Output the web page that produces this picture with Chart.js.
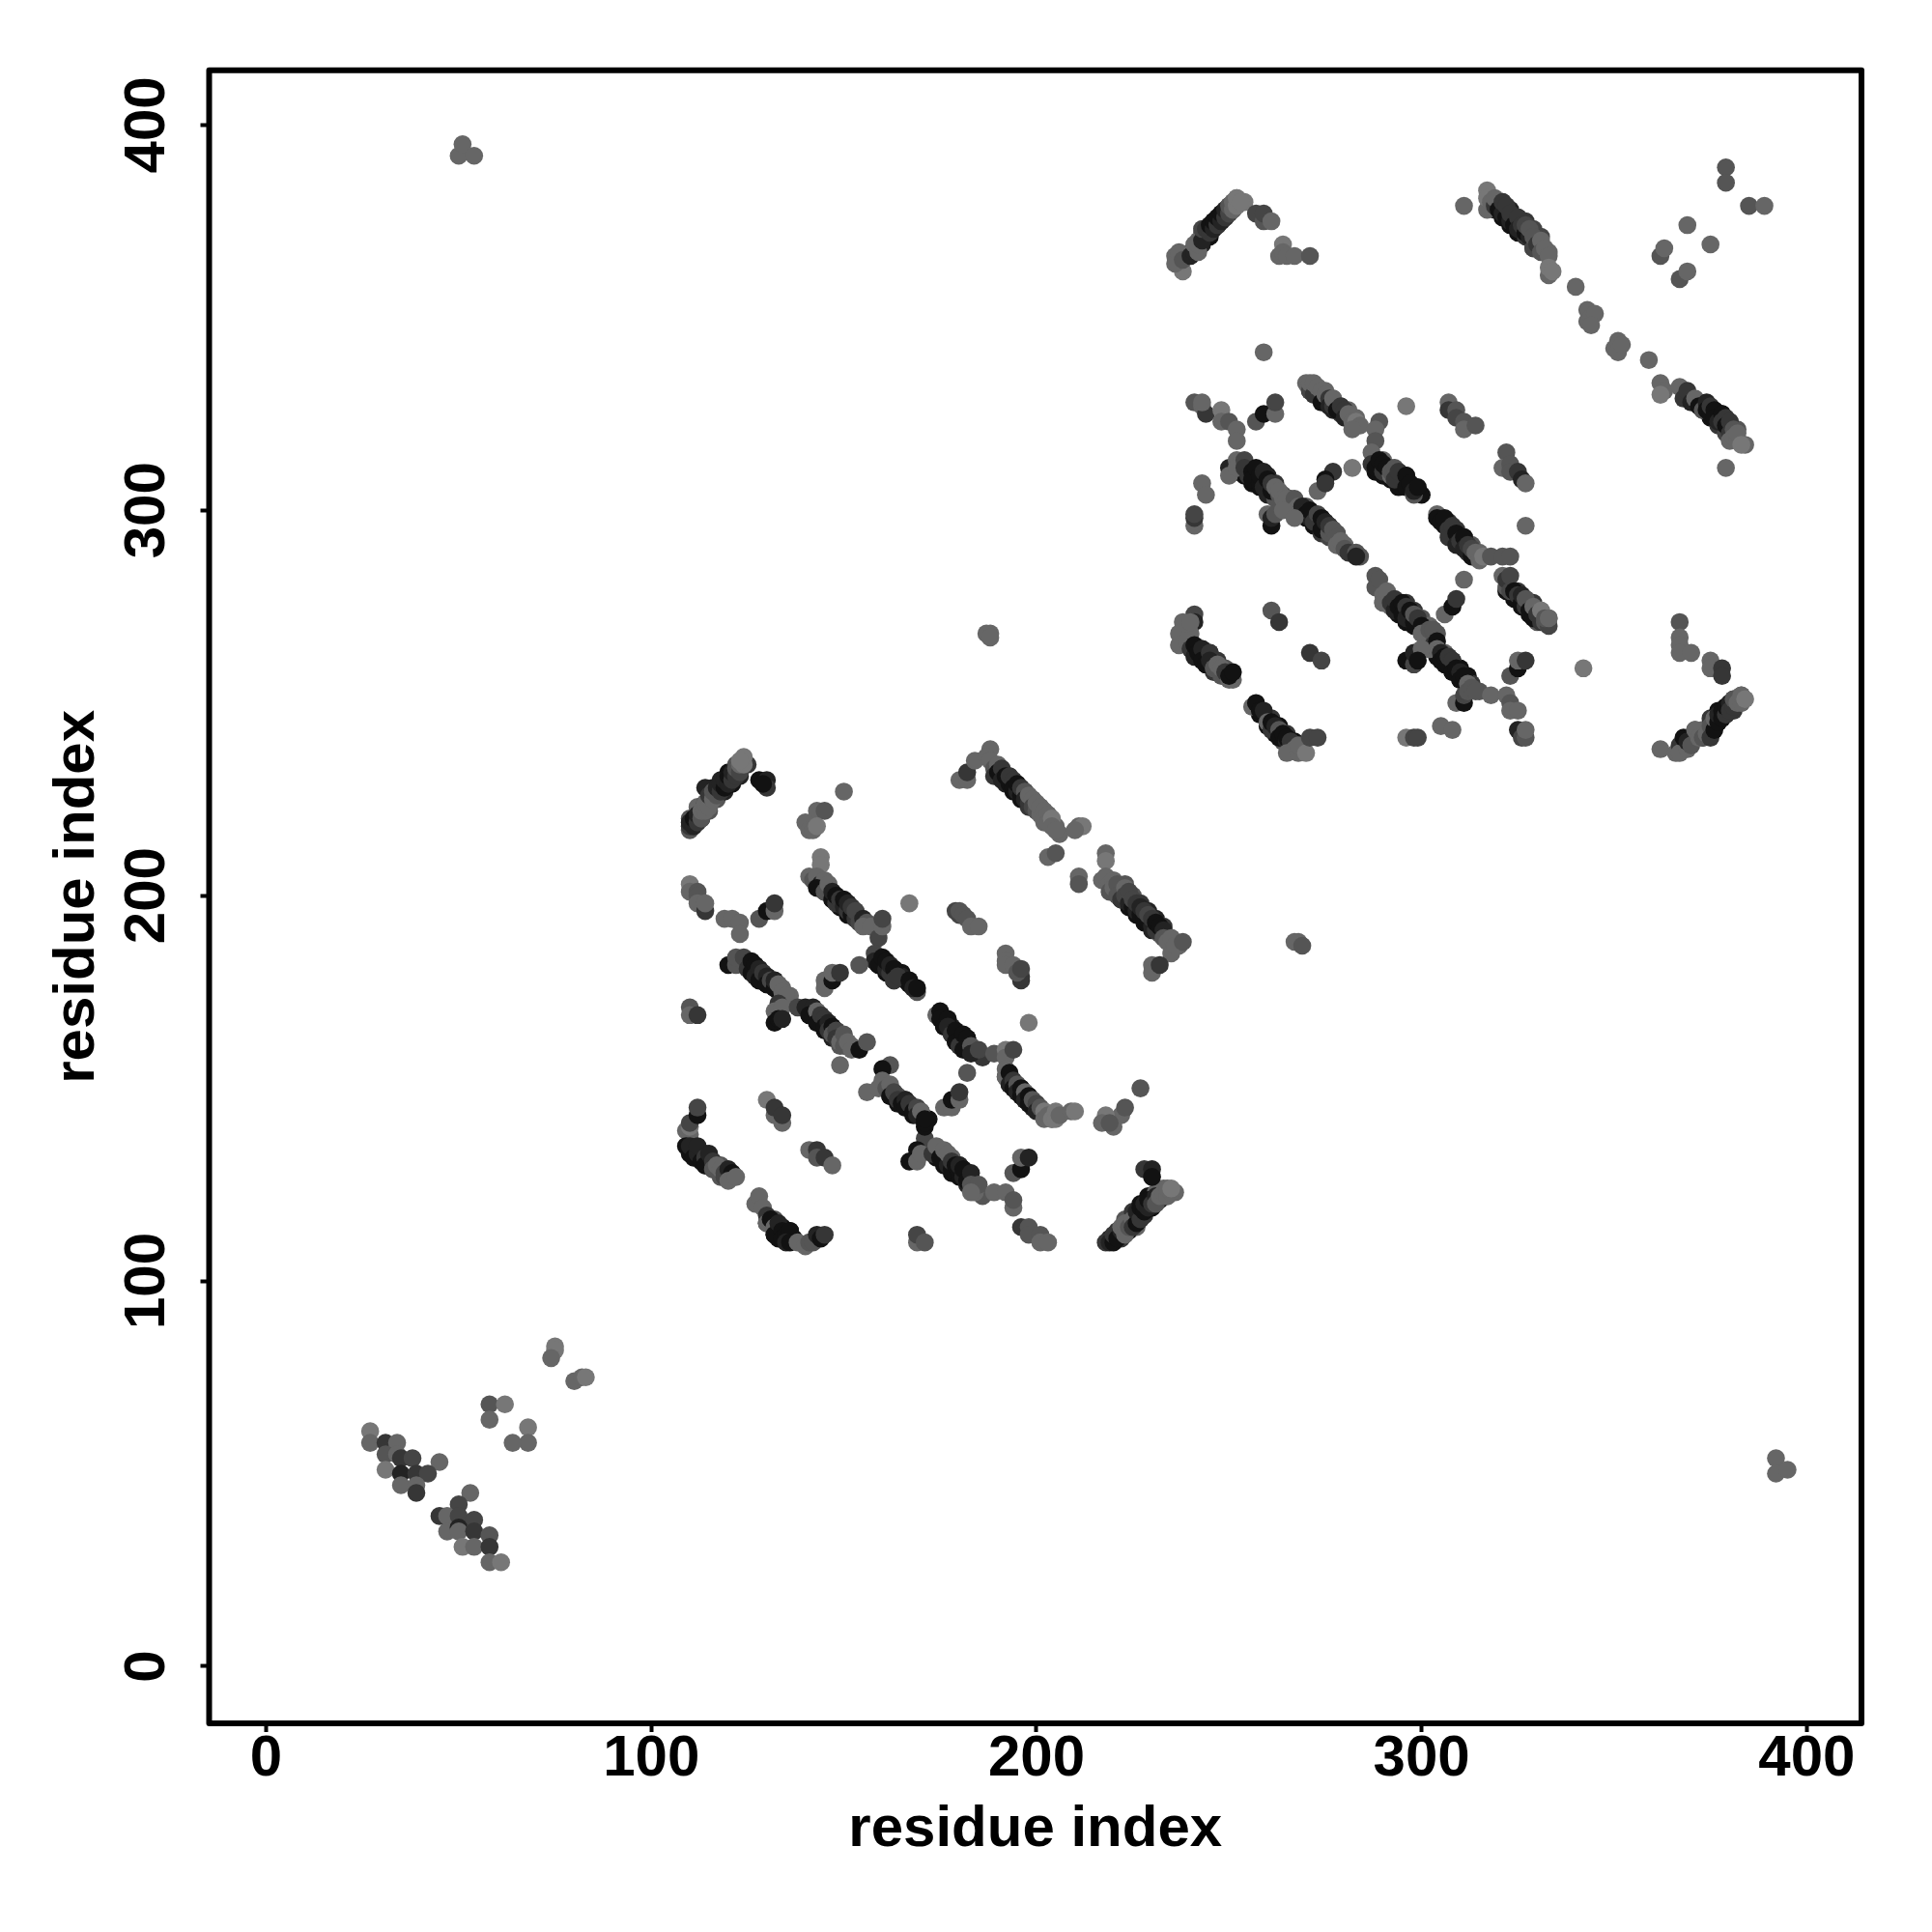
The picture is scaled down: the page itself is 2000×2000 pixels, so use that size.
<!DOCTYPE html>
<html><head><meta charset="utf-8">
<script src="https://cdn.jsdelivr.net/npm/chart.js@4"></script>
<style>html,body{margin:0;padding:0;background:#fff}canvas{display:block}</style>
</head><body><canvas id="c" width="2000" height="2000"></canvas>
<script>
const tickValues=[0,100,200,300,400];
const axisLabel="residue index";
// each entry: residue x, residue y, grey level (1 darkest .. 7 lightest)
const chainEdges=[[145,201,1],[147,199,1],[149,197,1],[151,195,1],[153,194,2],[149,199,4],[151,198,3],[153,196,5],[159,182,2],[161,180,1],[163,178,3],[163,181,3],[165,180,1],[166,178,2],[165,179,2],[167,177,1],[124,182,1],[126,180,1],[128,178,1],[130,177,1],[132,176,2],[128,181,4],[130,179,3],[132,178,5],[134,176,6],[136,174,6],[141,169,1],[143,167,1],[145,165,1],[147,163,2],[149,161,5],[146,167,5],[148,165,3],[150,163,2],[152,161,6],[176,166,1],[178,164,1],[180,161,1],[182,160,2],[178,166,2],[180,164,2],[182,163,1],[184,160,3],[186,158,3],[192,153,3],[193,151,1],[195,149,1],[197,147,1],[199,145,2],[196,150,3],[198,148,2],[200,146,5],[202,144,6],[201,144,5],[204,142,6],[206,143,6],[160,151,3],[162,148,1],[164,146,1],[166,145,1],[168,143,1],[164,148,5],[166,147,3],[168,145,4],[170,144,3],[172,142,1],[174,132,1],[176,130,1],[178,128,1],[180,127,1],[182,125,2],[178,132,6],[180,130,3],[182,128,2],[184,125,1],[186,122,5],[190,231,1],[192,229,2],[194,227,1],[196,225,1],[198,223,3],[200,222,5],[202,219,6],[193,231,5],[195,229,3],[197,227,3],[199,225,5],[201,223,6],[203,221,6],[205,218,6],[206,216,6],[220,201,5],[222,199,3],[224,197,1],[226,195,1],[228,193,1],[230,191,2],[232,190,5],[223,203,5],[225,200,5],[227,198,3],[229,196,2],[231,194,2],[233,192,3],[235,189,5],[237,187,6],[113,220,1],[115,222,5],[117,225,5],[119,227,2],[121,229,1],[123,231,2],[125,234,3],[110,220,5],[112,222,6],[112,223,6],[114,224,3],[116,228,2],[118,230,2],[120,232,1],[122,234,5],[222,111,3],[224,113,1],[226,114,6],[228,117,3],[230,119,1],[232,121,2],[234,122,6],[236,123,6],[219,111,2],[221,113,3],[223,116,5],[225,118,3],[227,120,1],[229,122,1],[231,123,6],[233,124,6],[112,132,1],[114,130,3],[116,129,3],[118,127,5],[110,135,3],[114,133,1],[116,131,3],[118,130,5],[120,128,6],[128,120,3],[130,115,1],[132,112,1],[133,111,1],[132,116,5],[134,114,1],[136,113,1],[137,111,1]];
const chainEdgesB=[[243,369,2],[245,371,1],[247,374,2],[249,376,3],[251,378,4],[253,380,6],[240,367,5],[242,370,6],[244,373,5],[246,375,3],[248,377,3],[250,379,6],[252,381,7],[254,380,7],[319,378,2],[321,376,1],[323,374,1],[325,372,1],[327,371,3],[329,368,4],[321,380,4],[323,378,2],[325,376,3],[327,375,3],[329,373,4],[331,371,4],[333,367,6],[369,329,2],[371,328,1],[373,326,1],[375,324,1],[377,322,3],[379,320,4],[372,328,6],[374,327,3],[376,326,3],[378,325,2],[380,323,3],[382,321,5],[384,317,6],[271,331,2],[273,330,1],[275,328,1],[277,326,2],[279,325,3],[275,331,6],[277,329,6],[279,327,6],[281,326,6],[283,324,6],[252,310,2],[254,309,1],[256,307,1],[258,306,1],[260,304,2],[262,303,5],[255,311,4],[258,310,3],[260,309,2],[262,307,3],[264,304,5],[266,303,5],[268,299,3],[270,298,1],[272,296,1],[274,294,3],[276,293,4],[278,291,5],[270,301,5],[272,299,3],[274,298,2],[276,296,3],[278,294,5],[280,291,6],[282,289,6],[284,288,5],[288,310,1],[290,309,1],[292,308,1],[294,306,1],[290,313,6],[292,311,5],[294,310,6],[296,309,3],[298,306,2],[300,304,1],[306,296,1],[308,294,1],[310,291,1],[312,289,3],[307,297,3],[309,295,3],[311,293,3],[313,291,5],[315,289,6],[322,279,1],[324,277,1],[326,275,1],[328,273,1],[330,271,5],[325,279,3],[327,277,3],[329,276,3],[331,274,6],[333,272,6],[290,276,5],[292,275,6],[294,273,1],[296,271,1],[298,270,1],[296,276,3],[298,274,3],[300,272,5],[302,270,6],[304,268,5],[304,262,1],[306,260,1],[308,258,1],[310,256,1],[306,263,6],[308,261,3],[310,259,1],[312,257,1],[313,255,3],[315,253,5],[242,262,1],[244,260,1],[246,258,3],[248,257,5],[243,264,2],[245,263,2],[247,261,3],[249,259,5],[258,247,1],[260,244,1],[262,242,1],[264,240,5],[261,246,3],[263,244,1],[265,242,3],[267,240,1],[269,239,5],[371,241,3],[373,241,3],[375,242,1],[377,245,1],[379,247,1],[381,248,3],[383,250,5],[371,243,5],[373,243,6],[375,246,3],[377,248,1],[379,249,1],[381,251,3],[383,252,6]];
const lowerCluster=[[27,61,7],[27,58,6],[31,58,3],[34,58,6],[31,55,5],[31,51,7],[34,55,6],[35,54,3],[38,54,4],[45,53,6],[35,50,2],[39,50,3],[42,50,4],[35,47,6],[39,47,6],[39,45,3],[53,45,6],[50,42,4],[45,39,3],[47,39,6],[50,39,4],[54,38,4],[47,35,6],[50,36,2],[50,35,6],[54,35,3],[58,34,5],[51,31,7],[54,31,6],[58,31,3],[58,27,6],[61,27,7],[58,68,5],[62,68,7],[58,64,6],[68,62,7],[68,58,6],[64,58,6],[75,83,7],[75,82,7],[74,80,6],[80,74,6],[82,75,6],[83,75,7]];
const farCorners=[[50,392,6],[51,395,6],[54,392,6],[392,54,6],[392,50,6],[395,51,6],[188,268,6],[187,268,6],[188,267,6],[268,188,6],[267,188,6],[269,187,5]];
const blockAUpper=[[110,217,5],[110,218,3],[110,219,2],[111,218,2],[111,220,1],[112,219,3],[112,221,2],[113,220,5],[113,222,6],[114,222,6],[114,224,6],[115,223,6],[114,228,2],[115,226,3],[116,225,6],[116,227,5],[117,226,5],[117,228,2],[118,227,3],[118,229,2],[119,228,1],[119,230,2],[120,229,2],[120,231,1],[121,230,3],[121,232,2],[122,231,3],[122,233,5],[123,232,4],[123,234,6],[124,234,7],[124,236,7],[123,235,7],[128,230,1],[130,230,2],[130,228,3],[129,229,1],[150,227,6],[143,222,6],[145,222,5],[140,219,6],[141,217,6],[142,217,6],[143,218,7],[144,210,7],[144,208,7],[141,205,6],[142,204,5],[143,205,6],[144,203,2],[145,204,6],[143,202,1],[145,201,5],[146,203,6],[147,199,1],[147,201,2],[148,198,3],[148,200,1],[149,199,3],[150,197,2],[150,199,1],[151,196,3],[151,198,2],[152,195,1],[152,197,3],[153,194,3],[153,196,4],[154,193,4],[155,194,2],[156,193,5],[155,192,6],[157,192,6],[159,189,4],[160,192,6],[160,194,4],[158,185,4],[158,183,2],[159,182,1],[160,184,1],[161,181,2],[161,183,1],[162,180,3],[162,182,2],[163,181,1],[163,178,3],[164,179,3],[169,175,5],[167,178,1],[168,176,2],[169,176,1],[154,182,5],[167,198,7],[179,196,4],[180,195,4],[180,196,5],[181,195,5],[182,194,5],[183,192,6],[185,192,6],[192,185,6],[192,183,6],[192,182,6],[194,182,6],[196,178,3],[196,179,3],[195,180,5],[196,181,4]];
const blockAArc=[[180,230,6],[182,230,6],[182,232,3],[184,235,6],[188,238,6],[187,236,6],[188,235,6],[189,233,5],[190,234,6],[189,231,3],[190,232,1],[191,233,3],[191,230,2],[192,231,1],[193,229,1],[193,231,3],[194,230,3],[194,228,1],[195,227,2],[195,229,1],[196,226,1],[196,228,3],[197,227,5],[197,225,2],[198,224,3],[198,226,6],[199,225,6],[199,223,4],[200,222,5],[200,224,6],[201,221,6],[201,223,6],[202,222,6],[202,220,6],[203,221,6],[203,219,6],[204,220,7],[204,218,6],[205,217,6],[211,218,6],[212,218,7],[210,217,6],[203,210,6],[205,211,5],[211,205,6],[211,203,5],[218,211,6],[218,209,7],[217,204,6],[218,205,6],[219,203,6],[219,201,5],[220,204,6],[220,202,6],[221,203,5],[221,200,5],[222,199,3],[223,202,6],[223,200,4],[224,198,2],[224,201,4],[225,197,1],[225,199,4],[226,196,2],[226,198,3],[227,195,1],[227,197,2],[228,194,1],[228,196,3],[229,193,1],[229,195,4],[230,192,2],[230,194,3],[231,191,3],[231,193,1],[232,192,1],[233,191,2],[233,189,5],[234,188,6],[235,189,6],[235,185,6],[236,187,6],[238,188,5],[230,182,6],[230,180,6],[232,182,3]];
const blockAMiddle=[[110,203,7],[110,201,6],[112,201,5],[112,200,5],[112,198,6],[114,196,3],[114,198,6],[119,194,6],[121,194,6],[123,193,6],[123,190,6],[128,194,5],[130,196,1],[132,196,6],[132,198,3],[120,182,1],[122,182,5],[122,184,5],[124,184,4],[125,181,3],[126,183,1],[126,180,1],[127,182,1],[127,179,2],[128,181,2],[128,178,1],[129,180,3],[130,179,2],[130,177,1],[131,178,4],[132,176,1],[132,178,2],[133,177,6],[134,175,6],[134,173,6],[135,174,6],[133,172,3],[132,170,6],[134,171,6],[132,167,1],[133,168,1],[134,168,2],[138,171,4],[140,171,2],[142,171,2],[141,169,1],[143,170,6],[143,167,1],[144,169,3],[145,168,3],[145,166,1],[146,167,2],[146,165,3],[147,166,1],[147,164,5],[148,165,4],[148,163,3],[149,162,6],[150,164,5],[150,161,5],[151,162,6],[152,160,6],[154,160,1],[156,162,5],[149,156,6],[110,171,5],[110,169,6],[112,169,3],[145,176,6],[145,178,6],[147,178,1],[147,180,6],[149,180,3],[174,169,6],[175,170,1],[175,168,1],[176,166,1],[177,168,1],[177,166,2],[178,164,3],[179,165,1],[179,162,1],[180,161,3],[181,164,1],[182,163,1],[181,160,1],[183,161,5],[183,159,2],[185,160,4],[189,159,5],[192,160,7],[192,158,6],[194,160,4],[182,154,5],[198,167,7]];
const blockALower=[[192,155,6],[192,153,6],[193,154,1],[193,151,2],[194,152,3],[194,150,1],[195,151,5],[195,149,2],[196,150,1],[196,148,1],[197,149,6],[197,147,2],[198,148,1],[198,146,1],[199,147,5],[200,146,4],[200,144,2],[201,145,5],[202,144,7],[202,142,6],[203,143,6],[204,142,7],[205,144,7],[205,142,7],[206,143,6],[209,144,6],[210,144,7],[227,150,5],[222,143,6],[223,145,5],[218,143,7],[217,141,6],[220,140,6],[219,141,5],[176,145,6],[178,145,6],[178,147,1],[180,147,6],[180,149,3],[162,156,5],[160,155,1],[156,149,6],[159,150,6],[160,152,6],[161,150,5],[162,151,6],[162,148,1],[163,149,4],[164,147,3],[165,146,1],[166,147,2],[166,145,1],[167,146,3],[168,144,1],[169,145,4],[169,143,2],[170,144,6],[171,137,4],[171,140,1],[171,141,1],[171,142,1],[169,134,1],[167,131,1],[169,131,6],[170,133,6],[173,133,3],[174,135,6],[175,132,1],[176,134,6],[177,130,2],[177,133,6],[178,129,1],[178,131,3],[179,130,1],[180,128,1],[180,130,2],[181,127,2],[181,129,1],[182,126,1],[183,128,2],[184,124,1],[183,125,5],[184,123,6],[185,125,5],[183,123,6],[189,123,6],[192,123,6],[194,119,6],[194,121,5],[194,128,5],[196,129,1],[196,132,6],[198,132,2],[196,114,3],[198,114,5],[198,112,5],[201,112,5],[201,110,6],[203,110,6],[218,110,3],[219,110,2],[220,110,1],[220,112,3],[221,111,1],[222,113,2],[222,114,6],[223,112,6],[223,115,6],[224,114,5],[225,116,6],[225,114,3],[226,115,1],[226,118,2],[227,116,3],[227,119,1],[228,118,1],[228,120,2],[229,119,2],[229,121,1],[230,120,3],[231,122,2],[231,120,5],[232,122,6],[233,123,6],[234,122,6],[235,123,6],[234,124,6],[235,124,7],[228,129,3],[230,129,2],[230,127,1],[110,138,6],[109,139,6],[110,140,7],[110,141,4],[112,143,1],[112,145,4],[109,135,1],[110,133,1],[110,135,2],[111,132,1],[112,133,2],[112,135,2],[113,131,1],[114,132,3],[114,130,1],[115,133,2],[116,131,3],[116,129,5],[117,130,6],[118,129,6],[119,128,4],[119,127,4],[120,129,2],[121,128,1],[120,126,6],[122,127,6],[130,147,7],[132,143,6],[132,145,3],[134,141,6],[134,143,3],[141,134,6],[143,134,3],[143,132,5],[145,132,3],[147,130,6],[127,120,6],[128,122,6],[129,119,6],[130,117,3],[130,115,6],[131,116,1],[132,114,6],[132,112,1],[133,115,2],[134,113,1],[134,111,1],[135,112,1],[136,113,1],[135,110,2],[136,110,1],[138,110,6],[140,109,6],[141,110,5],[142,110,5],[143,112,2],[144,111,1],[145,112,3],[169,110,6],[169,112,4],[171,110,5]];
const blockBUpper=[[238,362,7],[236,366,6],[236,364,6],[237,367,6],[238,365,5],[240,366,2],[241,367,2],[241,369,6],[242,367,6],[242,369,6],[243,372,6],[243,370,2],[243,373,4],[244,373,3],[245,372,3],[245,374,1],[246,373,2],[246,375,1],[247,374,3],[247,376,1],[248,375,2],[248,377,1],[249,376,3],[249,378,2],[250,377,4],[250,379,5],[251,378,6],[251,380,6],[252,379,7],[252,381,7],[253,380,7],[257,377,4],[259,375,5],[259,377,4],[261,375,6],[264,369,7],[263,366,6],[264,367,6],[265,366,6],[267,366,6],[271,366,5],[311,379,6],[317,378,6],[317,383,7],[317,381,7],[318,380,6],[319,379,3],[319,381,6],[320,378,1],[321,377,2],[321,380,3],[322,376,1],[322,379,3],[323,375,2],[323,377,3],[324,374,1],[325,376,3],[325,373,2],[326,374,3],[327,372,1],[327,374,4],[328,371,2],[328,373,5],[329,368,4],[329,371,5],[330,369,3],[331,370,6],[331,367,5],[332,368,6],[333,366,6],[333,361,6],[333,363,7],[334,362,7],[340,358,6],[343,352,6],[343,349,6],[344,350,6],[345,351,6],[344,348,6],[350,342,6],[351,344,6],[351,341,6],[352,343,6],[359,339,6],[362,333,6],[363,331,6],[362,330,7],[367,332,6],[368,329,3],[369,331,3],[370,328,2],[371,329,6],[372,327,1],[373,326,5],[374,328,2],[374,326,1],[375,325,1],[375,327,3],[376,326,1],[376,324,1],[377,323,2],[378,325,1],[378,323,3],[379,324,3],[379,322,1],[380,323,3],[380,320,3],[381,321,5],[380,318,6],[381,319,6],[382,318,6],[382,320,6],[383,317,7],[379,311,6],[379,389,5],[379,385,5],[385,379,5],[389,379,6],[369,374,6],[375,369,6],[362,366,5],[363,368,6],[367,360,5],[369,362,6]];
const blockBMiddle=[[259,341,6],[296,327,7],[241,328,5],[243,327,6],[244,325,3],[243,328,6],[248,326,7],[248,323,6],[250,323,5],[252,321,6],[252,318,6],[257,323,5],[259,325,1],[262,325,6],[262,328,4],[270,333,6],[271,331,4],[271,333,6],[272,330,3],[272,333,6],[273,332,6],[274,331,6],[274,328,1],[275,330,6],[276,329,3],[276,327,2],[277,327,3],[277,329,6],[278,326,1],[279,327,3],[280,326,3],[280,324,2],[281,325,6],[282,323,6],[283,323,7],[284,322,6],[282,321,6],[289,323,5],[288,321,6],[288,318,5],[287,315,6],[287,312,3],[288,311,1],[289,313,1],[290,310,3],[290,312,1],[291,311,1],[292,309,6],[292,310,5],[293,311,5],[293,308,3],[294,310,3],[296,309,1],[296,306,1],[297,307,1],[298,304,5],[298,305,2],[299,306,1],[282,311,7],[277,310,3],[275,308,1],[273,305,6],[275,307,3],[241,296,6],[241,298,3],[241,299,4],[243,307,6],[244,304,6],[250,311,2],[250,309,6],[252,313,6],[252,311,6],[254,313,4],[254,311,3],[255,309,3],[256,310,1],[256,308,1],[257,311,1],[258,307,1],[258,309,1],[259,310,2],[259,306,2],[260,308,1],[261,305,1],[261,307,3],[262,306,6],[263,304,5],[263,305,6],[264,303,6],[265,303,6],[267,303,5],[267,300,6],[268,301,6],[269,301,2],[270,299,1],[271,298,2],[271,300,1],[272,297,3],[273,299,4],[274,295,1],[274,298,1],[275,297,2],[276,294,5],[276,296,3],[277,295,5],[278,293,5],[278,291,6],[279,292,6],[280,290,5],[281,289,3],[283,289,5],[283,288,2],[260,299,6],[261,296,1],[261,298,2],[262,299,5],[264,300,6],[267,298,6],[304,299,6],[304,298,1],[305,297,1],[306,298,1],[307,295,3],[307,293,3],[308,296,3],[309,294,1],[309,291,2],[310,292,3],[311,293,1],[311,290,2],[312,291,3],[313,288,1],[313,290,4],[314,289,6],[315,287,6],[316,288,7],[318,288,5],[321,288,5],[323,288,5],[311,282,6],[322,315,5],[321,311,6],[323,312,5],[323,310,5],[325,310,3],[326,308,2],[327,307,6],[327,296,6],[307,328,6],[307,326,3],[309,326,5],[309,324,4],[311,323,5],[311,321,6],[314,322,5]];
const blockBLower=[[321,283,6],[322,280,5],[322,282,3],[323,283,4],[323,279,4],[324,279,1],[325,278,3],[326,276,1],[326,278,2],[327,275,3],[327,277,5],[328,274,1],[329,272,1],[329,275,6],[330,273,3],[331,271,3],[331,274,7],[332,271,5],[333,270,4],[332,272,5],[333,272,6],[288,283,5],[288,280,5],[289,282,5],[290,278,6],[290,276,6],[291,279,6],[292,276,3],[293,274,2],[293,277,3],[294,275,1],[295,276,1],[295,273,1],[296,275,3],[296,272,2],[297,274,1],[298,271,1],[298,273,5],[299,272,3],[300,270,1],[301,268,1],[300,268,6],[301,267,6],[302,269,5],[303,269,5],[302,264,6],[303,265,3],[304,266,1],[304,264,6],[305,263,2],[305,261,1],[306,262,1],[307,260,1],[307,262,3],[308,261,3],[308,258,1],[309,259,1],[310,258,2],[310,256,1],[311,257,1],[309,250,6],[311,250,1],[311,252,4],[312,255,6],[312,253,5],[313,254,5],[314,253,5],[296,261,1],[298,260,4],[298,263,2],[300,264,6],[299,261,1],[306,273,6],[308,275,1],[309,277,3],[318,252,6],[322,252,6],[323,250,5],[323,248,6],[325,248,6],[323,257,5],[325,259,1],[325,261,6],[327,261,3],[342,259,7],[325,243,2],[326,241,4],[327,241,5],[327,243,6],[305,244,6],[308,243,6],[296,241,7],[298,241,4],[299,241,4],[241,273,4],[241,271,2],[238,271,6],[237,268,6],[237,265,6],[240,268,6],[240,271,6],[239,266,6],[240,264,3],[241,262,2],[241,265,1],[242,263,1],[243,264,2],[243,261,1],[244,260,1],[245,263,3],[245,261,2],[246,259,5],[247,260,6],[248,259,6],[249,258,3],[250,256,6],[251,256,6],[250,257,1],[251,258,1],[261,274,5],[263,271,3],[271,263,3],[274,261,4],[256,249,6],[257,250,1],[258,248,1],[259,248,2],[260,245,6],[261,243,3],[261,245,1],[262,244,2],[263,243,5],[263,241,1],[264,242,1],[265,240,2],[265,241,1],[266,240,3],[267,238,6],[265,237,6],[268,237,6],[268,239,6],[270,237,7],[271,241,4],[273,241,4],[362,238,6],[366,237,6],[367,239,3],[367,237,6],[368,241,1],[369,238,6],[369,240,2],[370,239,5],[371,243,6],[372,241,6],[373,241,5],[374,242,6],[375,244,5],[375,241,3],[376,243,1],[376,246,6],[377,245,1],[377,247,2],[378,248,1],[378,246,1],[379,247,3],[379,249,1],[380,250,2],[380,248,3],[381,249,3],[381,251,5],[382,250,6],[383,250,6],[383,252,6],[384,251,7],[367,271,5],[367,267,6],[367,265,6],[367,263,6],[370,263,6],[375,261,6],[375,259,6],[378,259,3],[378,257,3]];
const greyLevels={1:"#121212",2:"#232323",3:"#363636",4:"#454545",5:"#555555",6:"#666666",7:"#777777"};

const contacts=[...chainEdges,...chainEdgesB,...lowerCluster,...farCorners,...blockAUpper,...blockAArc,...blockAMiddle,...blockALower,...blockBUpper,...blockBMiddle,...blockBLower];
const frame={id:"frame",afterDatasetsDraw(chart){const a=chart.chartArea,g=chart.ctx;g.save();g.strokeStyle="#000";g.lineWidth=6;g.lineJoin="round";g.strokeRect(a.left,a.top,a.right-a.left,a.bottom-a.top);g.restore();}};
const font={family:"'Liberation Sans',Arial,sans-serif",weight:"bold",size:60};
new Chart(document.getElementById("c"),{
  type:"scatter",
  data:{datasets:[{data:contacts.map(p=>({x:p[0],y:p[1]})),backgroundColor:contacts.map(p=>greyLevels[p[2]]),borderWidth:0,pointRadius:9.3,pointHoverRadius:9.3}]},
  plugins:[frame],
  options:{responsive:false,animation:false,
    layout:{padding:{top:72.7,right:73,left:0,bottom:0}},
    plugins:{legend:{display:false},tooltip:{enabled:false},title:{display:false}},
    scales:{
      x:{type:"linear",min:-14.8,max:414.2,afterFit(s){s.height=216;},afterBuildTicks(s){s.ticks=tickValues.map(v=>({value:v}));},
        border:{display:false},
        grid:{display:true,drawOnChartArea:false,drawTicks:true,tickLength:9,tickWidth:4,tickColor:"#000"},
        ticks:{color:"#000",font,padding:-8,autoSkip:false,minRotation:0,maxRotation:0},
        title:{display:true,text:axisLabel,color:"#000",font,padding:{top:0,bottom:70}}},
      y:{type:"linear",min:-14.8,max:414.2,afterFit(s){s.width=216.5;},afterBuildTicks(s){s.ticks=tickValues.map(v=>({value:v}));},
        border:{display:false},
        grid:{display:true,drawOnChartArea:false,drawTicks:true,tickLength:9,tickWidth:4,tickColor:"#000"},
        ticks:{color:"#000",font,padding:4,autoSkip:false,minRotation:90,maxRotation:90,crossAlign:"center"},
        title:{display:true,text:axisLabel,color:"#000",font,padding:{top:44,bottom:0}}}
    }}
});
</script></body></html>
